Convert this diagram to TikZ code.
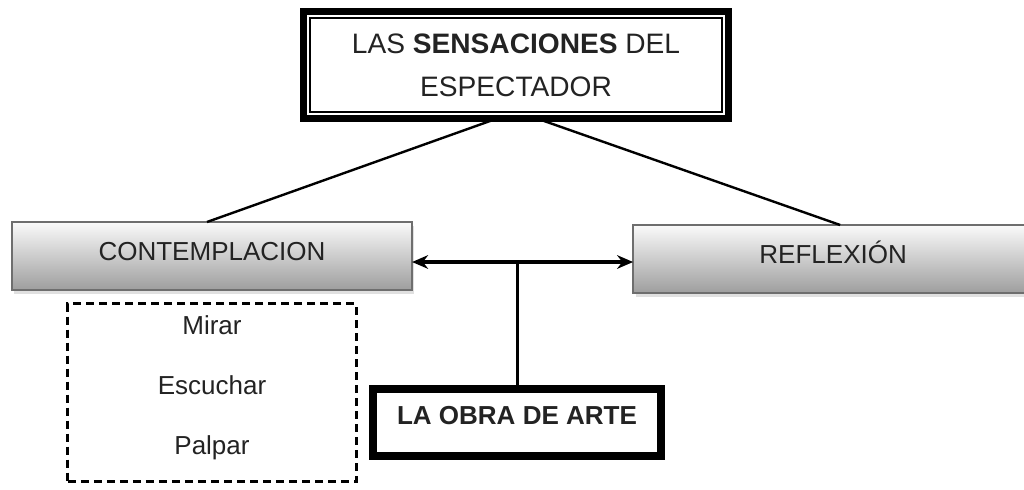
\documentclass[tikz,border=0pt]{standalone}
\usepackage{fontspec}
\setmainfont{Liberation Sans}
\usepackage{tikz}
\usetikzlibrary{positioning,calc,arrows.meta,shadows}
\definecolor{boxline}{RGB}{110,110,110}
\definecolor{boxtop}{RGB}{250,250,250}
\definecolor{boxbottom}{RGB}{158,158,158}
\definecolor{inktext}{RGB}{35,35,35}

\begin{document}
\begin{tikzpicture}[x=0.025cm, y=-0.025cm, every node/.style={font=\fontsize{18.5}{22}\selectfont, text=inktext, outer sep=0pt}]
  \tikzstyle{framed}=[draw, line width=0.18cm, minimum width=10.625cm, minimum height=2.675cm, align=center]
  \tikzstyle{stage}=[draw=boxline, line width=0.05cm, top color=boxtop, bottom color=boxbottom, minimum width=10cm, minimum height=1.7cm, text height=0.47cm, text depth=0.25cm, drop shadow={shadow xshift=0.06cm, shadow yshift=-0.1cm, fill=black!20, opacity=0.6}]
  \tikzstyle{heavy}=[draw, line width=0.2cm, minimum width=7.175cm, minimum height=1.675cm, text height=0.47cm, text depth=0.375cm]
  \tikzstyle{dashbox}=[draw, line width=0.075cm, dash pattern=on 0.2cm off 0.125cm, minimum width=7.2cm, minimum height=4.45cm, align=center, text depth=0.39cm]
  \useasboundingbox (0,0) rectangle (1024,489);
  \node[framed, font=\fontsize{20}{30.6}\selectfont] (title) at (516,65) {LAS \textbf{SENSACIONES} DEL\\ESPECTADOR};
  \draw[line width=0.04cm] ($(title.north west)+(6.5,6.5)$) rectangle ($(title.south east)+(-6.5,-6.5)$);
  \node[stage] (contemp) at (212,256) {CONTEMPLACION};
  \node[stage, right=5.525cm of contemp, yshift=-0.075cm] (refl) {REFLEXIÓN};
  \coordinate (hub) at (517,262);
  \node[heavy, below=3.175cm of hub, font=\fontsize{18.5}{22}\selectfont\bfseries] (obra) {LA OBRA DE ARTE};
  \node[dashbox, below=0.34cm of contemp, font=\fontsize{18.5}{42.7}\selectfont] (senses) {Mirar\\Escuchar\\Palpar};
  \draw[line width=0.06cm] ($(title.south)+(-19,0)$) -- ($(contemp.north)+(-5,0)$);
  \draw[line width=0.06cm] ($(title.south)+(21,0)$) -- ($(refl.north)+(7,0)$);
  \draw[line width=0.085cm, {Stealth[length=0.4cm,width=0.34cm]}-{Stealth[length=0.4cm,width=0.34cm]}] (contemp.east |- hub) -- (refl.west |- hub);
  \draw[line width=0.075cm] (hub) -- (obra.north);
\end{tikzpicture}
\end{document}
